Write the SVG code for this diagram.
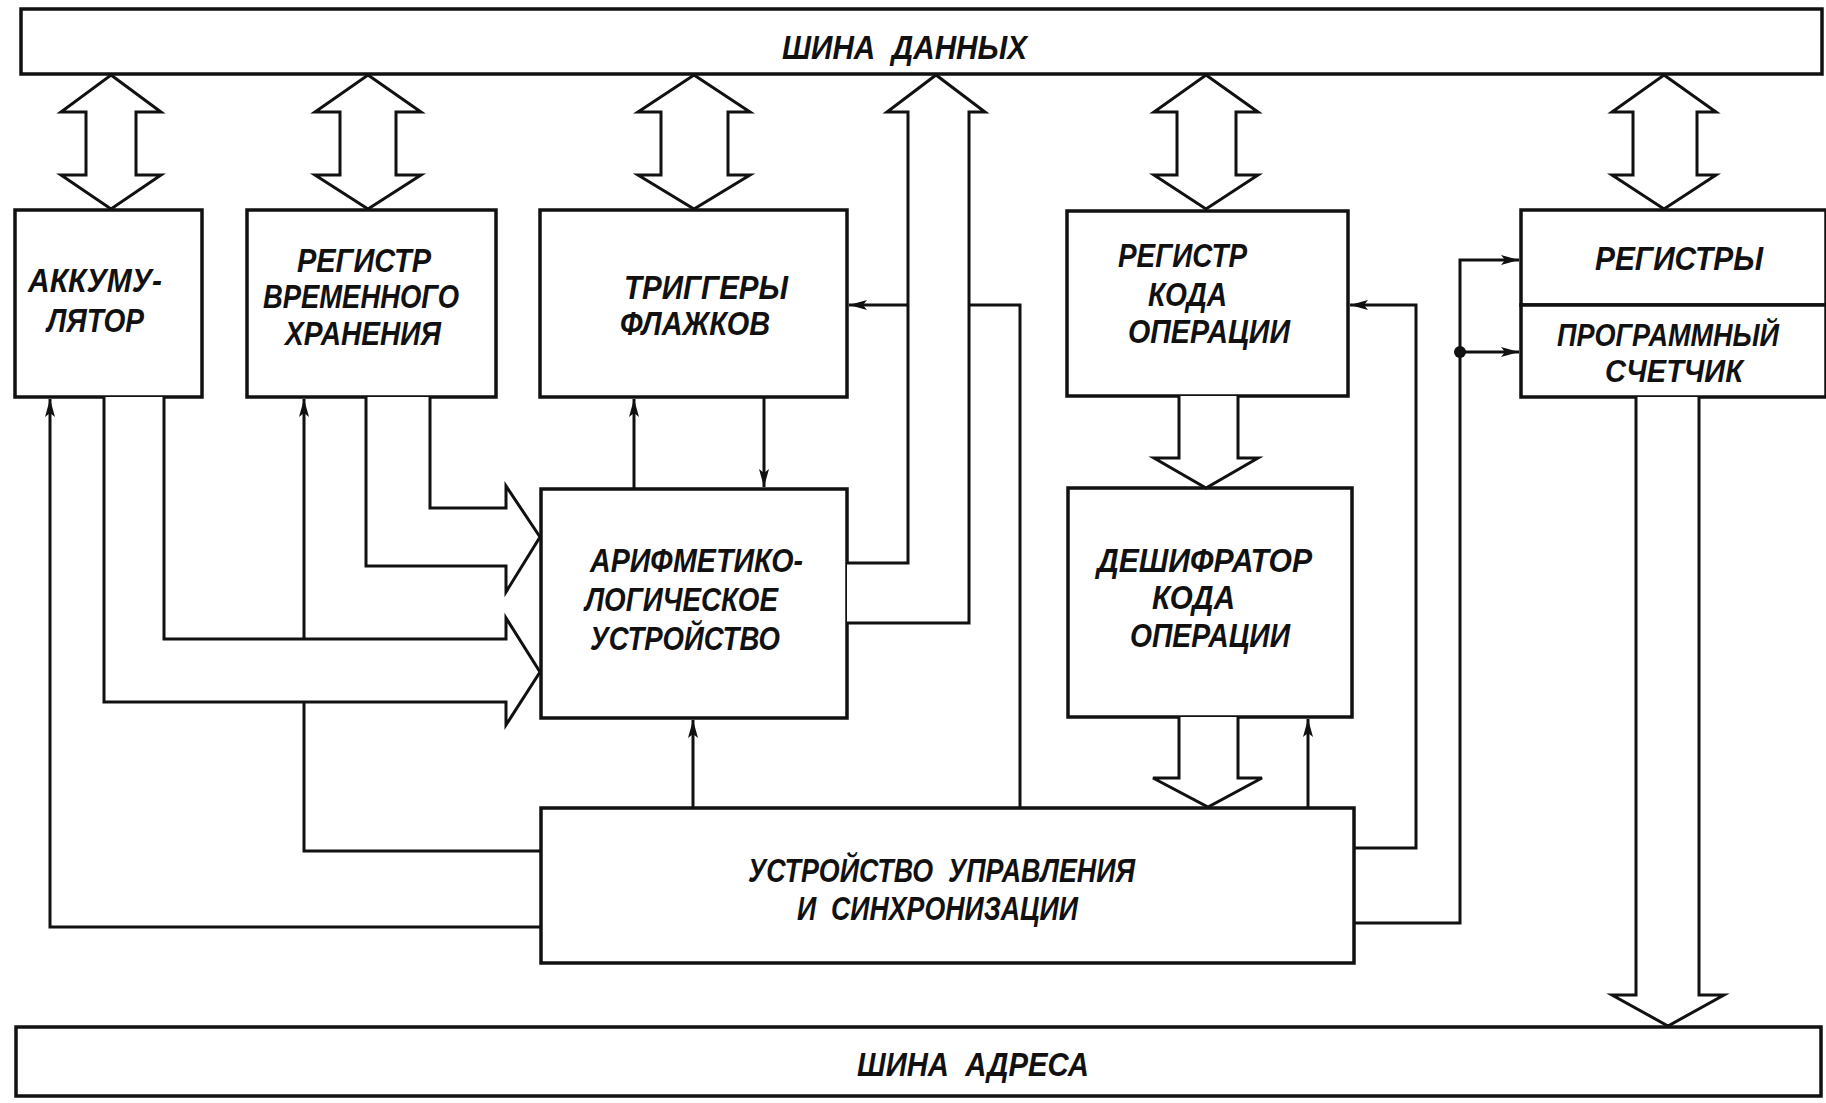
<svg xmlns="http://www.w3.org/2000/svg" width="1826" height="1103" viewBox="0 0 1826 1103">
<defs>
<marker id="ah" markerUnits="userSpaceOnUse" markerWidth="20" markerHeight="12" refX="18" refY="5" orient="auto">
<path d="M0,0 L18,5 L0,10 L4,5 z" fill="#111"/>
</marker>
<style>
.box{fill:#fff;stroke:#111;stroke-width:3.5}
.ln{fill:none;stroke:#111;stroke-width:3}
.fat{fill:#fff;stroke:#111;stroke-width:3;stroke-linejoin:miter}
.t{font-family:"Liberation Sans","DejaVu Sans",sans-serif;font-style:italic;font-weight:bold;font-size:34px;fill:#111}
.s{font-size:32px}
</style>
</defs>
<rect width="1826" height="1103" fill="#fff"/>

<g id="data-bus">
<rect class="box" x="21" y="9" width="1801" height="65"/>
<text class="t" x="782" y="59" xml:space="preserve" textLength="245" lengthAdjust="spacingAndGlyphs">ШИНА  ДАННЫХ</text>
</g>
<g id="address-bus">
<rect class="box" x="16" y="1027" width="1805" height="69"/>
<text class="t" x="857" y="1076" xml:space="preserve" textLength="232" lengthAdjust="spacingAndGlyphs">ШИНА  АДРЕСА</text>
</g>

<g id="accumulator">
<rect class="box" x="15" y="210" width="187" height="187"/>
<text class="t" x="28" y="292" textLength="134" lengthAdjust="spacingAndGlyphs">АККУМУ-</text>
<text class="t" x="47" y="332" textLength="97" lengthAdjust="spacingAndGlyphs">ЛЯТОР</text>
</g>
<g id="temp-register">
<rect class="box" x="247" y="210" width="249" height="187"/>
<text class="t" x="297" y="272" textLength="134" lengthAdjust="spacingAndGlyphs">РЕГИСТР</text>
<text class="t" x="263" y="308" textLength="196" lengthAdjust="spacingAndGlyphs">ВРЕМЕННОГО</text>
<text class="t" x="285" y="345" textLength="156" lengthAdjust="spacingAndGlyphs">ХРАНЕНИЯ</text>
</g>
<g id="flag-triggers">
<rect class="box" x="540" y="210" width="307" height="187"/>
<text class="t" x="624" y="299" textLength="164" lengthAdjust="spacingAndGlyphs">ТРИГГЕРЫ</text>
<text class="t" x="620" y="335" textLength="150" lengthAdjust="spacingAndGlyphs">ФЛАЖКОВ</text>
</g>
<g id="opcode-register">
<rect class="box" x="1067" y="211" width="281" height="185"/>
<text class="t" x="1118" y="267" textLength="129" lengthAdjust="spacingAndGlyphs">РЕГИСТР</text>
<text class="t" x="1148" y="306" textLength="79" lengthAdjust="spacingAndGlyphs">КОДА</text>
<text class="t" x="1128" y="343" textLength="162" lengthAdjust="spacingAndGlyphs">ОПЕРАЦИИ</text>
</g>
<g id="registers">
<rect class="box" x="1521" y="210" width="305" height="95"/>
<text class="t" x="1595" y="270" textLength="168" lengthAdjust="spacingAndGlyphs">РЕГИСТРЫ</text>
</g>
<g id="program-counter">
<rect class="box" x="1521" y="305" width="305" height="92"/>
<text class="t s" x="1557" y="346" textLength="222" lengthAdjust="spacingAndGlyphs">ПРОГРАММНЫЙ</text>
<text class="t s" x="1605" y="382" textLength="138" lengthAdjust="spacingAndGlyphs">СЧЕТЧИК</text>
</g>
<g id="alu">
<rect class="box" x="541" y="489" width="306" height="229"/>
<text class="t" x="590" y="572" textLength="213" lengthAdjust="spacingAndGlyphs">АРИФМЕТИКО-</text>
<text class="t" x="585" y="611" textLength="193" lengthAdjust="spacingAndGlyphs">ЛОГИЧЕСКОЕ</text>
<text class="t" x="590" y="650" textLength="190" lengthAdjust="spacingAndGlyphs">УСТРОЙСТВО</text>
</g>
<g id="opcode-decoder">
<rect class="box" x="1068" y="488" width="284" height="229"/>
<text class="t" x="1097" y="572" textLength="215" lengthAdjust="spacingAndGlyphs">ДЕШИФРАТОР</text>
<text class="t" x="1152" y="609" textLength="83" lengthAdjust="spacingAndGlyphs">КОДА</text>
<text class="t" x="1130" y="647" textLength="160" lengthAdjust="spacingAndGlyphs">ОПЕРАЦИИ</text>
</g>
<g id="control-unit">
<rect class="box" x="541" y="808" width="813" height="155"/>
<text class="t" x="748" y="882" xml:space="preserve" textLength="387" lengthAdjust="spacingAndGlyphs">УСТРОЙСТВО  УПРАВЛЕНИЯ</text>
<text class="t" x="797" y="920" xml:space="preserve" textLength="281" lengthAdjust="spacingAndGlyphs">И  СИНХРОНИЗАЦИИ</text>
</g>

<g id="connectors">
<path class="ln" d="M541,927 H50 V399" marker-end="url(#ah)"/>
<path class="ln" d="M541,851 H304 V399" marker-end="url(#ah)"/>
<path class="ln" d="M634,489 V399" marker-end="url(#ah)"/>
<path class="ln" d="M764,397 V487" marker-end="url(#ah)"/>
<path class="ln" d="M693,808 V720" marker-end="url(#ah)"/>
<path class="ln" d="M1020,808 V305 H849" marker-end="url(#ah)"/>
<path class="ln" d="M1308,808 V719" marker-end="url(#ah)"/>
<path class="ln" d="M1354,848 H1416 V305 H1350" marker-end="url(#ah)"/>
<path class="ln" d="M1354,923 H1460 V260 H1519" marker-end="url(#ah)"/>
<path class="ln" d="M1460,352 H1519" marker-end="url(#ah)"/>
<circle cx="1460" cy="352" r="6" fill="#111"/>
<polygon class="fat" points="111,75 161,112 136,112 136,175 161,175 111,209 61,175 86,175 86,112 61,112"/>
<polygon class="fat" points="368,75 421,112 396,112 396,175 421,175 368,209 315,175 340,175 340,112 315,112"/>
<polygon class="fat" points="694,75 750,112 728,112 728,175 750,175 694,209 638,175 661,175 661,112 638,112"/>
<polygon class="fat" points="1206,75 1258,112 1236,112 1236,175 1258,175 1206,209 1154,175 1177,175 1177,112 1154,112"/>
<polygon class="fat" points="1664,75 1716,112 1697,112 1697,175 1716,175 1664,209 1612,175 1633,175 1633,112 1612,112"/>
<path class="fat" d="M847,563 H908 V112 H887 L936,75 L985,112 H969 V623 H847"/>
<path class="fat" d="M430,397 V508 H506 V486 L540,537 L506,592 V566 H366 V397"/>
<path class="fat" d="M164,397 V639 H506 V618 L540,672 L506,725 V702 H104 V397"/>
<path class="fat" d="M1179,396 V458 H1154 L1206,488 L1258,458 H1238 V396"/>
<path class="fat" d="M1179,717 V778 H1153 L1208,807 L1262,778 H1238 V717"/>
<path class="fat" d="M1636,397 V995 H1612 L1668,1026 L1724,995 H1699 V397"/>
</g>
</svg>
